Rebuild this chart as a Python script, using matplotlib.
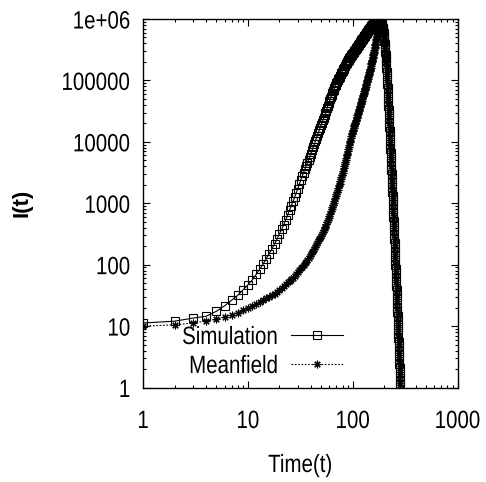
import numpy as np
import matplotlib
matplotlib.use("Agg")
import matplotlib.pyplot as plt
from matplotlib.ticker import FixedLocator, FixedFormatter, LogLocator, NullFormatter
from matplotlib.patheffects import AbstractPathEffect
from matplotlib.transforms import Affine2D

# ---------------- data (log10 of I(t)) ----------------
time_sim = list(range(1, 285))
sim_log10 = [
    1.05, 1.08, 1.13, 1.16, 1.24, 1.33, 1.42, 1.50, 1.59, 1.67,
    1.75, 1.84, 1.93, 2.01, 2.10, 2.18, 2.26, 2.34, 2.42, 2.50,
    2.58, 2.65, 2.73, 2.81, 2.89, 2.96, 3.03, 3.10, 3.17, 3.24,
    3.31, 3.38, 3.44, 3.50, 3.56, 3.61, 3.66, 3.71, 3.76, 3.81,
    3.86, 3.91, 3.96, 4.01, 4.05, 4.10, 4.14, 4.19, 4.23, 4.27,
    4.31, 4.35, 4.39, 4.43, 4.47, 4.51, 4.55, 4.59, 4.63, 4.66,
    4.70, 4.73, 4.76, 4.79, 4.82, 4.85, 4.88, 4.91, 4.93, 4.96,
    4.98, 5.00, 5.02, 5.04, 5.06, 5.08, 5.10, 5.12, 5.14, 5.16,
    5.18, 5.19, 5.21, 5.23, 5.24, 5.26, 5.27, 5.29, 5.30, 5.32,
    5.33, 5.34, 5.36, 5.37, 5.38, 5.40, 5.41, 5.42, 5.43, 5.44,
    5.45, 5.46, 5.47, 5.48, 5.49, 5.50, 5.51, 5.52, 5.53, 5.54,
    5.55, 5.56, 5.57, 5.58, 5.59, 5.60, 5.61, 5.62, 5.63, 5.64,
    5.65, 5.66, 5.66, 5.67, 5.68, 5.69, 5.70, 5.71, 5.72, 5.73,
    5.73, 5.74, 5.75, 5.76, 5.77, 5.78, 5.78, 5.79, 5.80, 5.81,
    5.82, 5.83, 5.84, 5.84, 5.85, 5.86, 5.86, 5.87, 5.88, 5.88,
    5.89, 5.89, 5.90, 5.91, 5.91, 5.92, 5.92, 5.93, 5.93, 5.94,
    5.94, 5.95, 5.95, 5.95, 5.96, 5.96, 5.96, 5.97, 5.97, 5.97,
    5.97, 5.98, 5.98, 5.98, 5.98, 5.98, 5.98, 5.98, 5.98, 5.97,
    5.97, 5.97, 5.96, 5.96, 5.95, 5.95, 5.94, 5.93, 5.92, 5.91,
    5.89, 5.88, 5.86, 5.84, 5.82, 5.80, 5.77, 5.74, 5.71, 5.68,
    5.64, 5.60, 5.56, 5.52, 5.47, 5.42, 5.37, 5.32, 5.26, 5.20,
    5.14, 5.08, 5.01, 4.94, 4.87, 4.80, 4.73, 4.66, 4.59, 4.52,
    4.45, 4.38, 4.31, 4.24, 4.17, 4.10, 4.03, 3.96, 3.89, 3.82,
    3.75, 3.68, 3.61, 3.54, 3.47, 3.40, 3.33, 3.26, 3.19, 3.12,
    3.05, 2.98, 2.91, 2.84, 2.77, 2.70, 2.63, 2.56, 2.49, 2.42,
    2.35, 2.28, 2.21, 2.14, 2.07, 2.00, 1.93, 1.86, 1.79, 1.72,
    1.65, 1.58, 1.51, 1.44, 1.37, 1.30, 1.23, 1.16, 1.09, 1.02,
    0.95, 0.88, 0.81, 0.74, 0.67, 0.60, 0.53, 0.46, 0.39, 0.32,
    0.25, 0.18, 0.11, 0.04,
]

time_mf = list(range(1, 286))
mf_log10 = [
    1.00, 1.02, 1.05, 1.08, 1.11, 1.15, 1.18, 1.22, 1.26, 1.30,
    1.33, 1.36, 1.39, 1.42, 1.45, 1.48, 1.50, 1.53, 1.56, 1.59,
    1.62, 1.65, 1.68, 1.71, 1.74, 1.77, 1.79, 1.82, 1.85, 1.88,
    1.91, 1.94, 1.97, 2.00, 2.03, 2.05, 2.08, 2.11, 2.14, 2.17,
    2.20, 2.23, 2.26, 2.29, 2.32, 2.35, 2.38, 2.41, 2.44, 2.47,
    2.50, 2.53, 2.56, 2.59, 2.62, 2.66, 2.69, 2.73, 2.76, 2.80,
    2.83, 2.87, 2.90, 2.94, 2.97, 3.01, 3.04, 3.08, 3.11, 3.15,
    3.18, 3.22, 3.25, 3.29, 3.32, 3.36, 3.39, 3.43, 3.46, 3.50,
    3.53, 3.57, 3.60, 3.64, 3.67, 3.71, 3.74, 3.78, 3.81, 3.85,
    3.88, 3.92, 3.95, 3.99, 4.02, 4.06, 4.09, 4.13, 4.15, 4.18,
    4.20, 4.22, 4.25, 4.27, 4.29, 4.31, 4.34, 4.36, 4.38, 4.41,
    4.43, 4.45, 4.47, 4.50, 4.52, 4.54, 4.57, 4.59, 4.61, 4.63,
    4.65, 4.67, 4.69, 4.71, 4.74, 4.76, 4.78, 4.80, 4.82, 4.84,
    4.86, 4.88, 4.90, 4.92, 4.94, 4.97, 4.99, 5.01, 5.03, 5.05,
    5.07, 5.09, 5.11, 5.13, 5.15, 5.17, 5.19, 5.21, 5.24, 5.26,
    5.28, 5.30, 5.32, 5.34, 5.36, 5.38, 5.41, 5.43, 5.45, 5.47,
    5.50, 5.52, 5.55, 5.57, 5.60, 5.62, 5.65, 5.67, 5.70, 5.72,
    5.75, 5.77, 5.80, 5.83, 5.86, 5.88, 5.90, 5.92, 5.94, 5.95,
    5.96, 5.97, 5.98, 5.98, 5.97, 5.96, 5.95, 5.94, 5.93, 5.92,
    5.91, 5.89, 5.88, 5.86, 5.84, 5.82, 5.80, 5.77, 5.74, 5.71,
    5.68, 5.64, 5.60, 5.56, 5.52, 5.47, 5.42, 5.37, 5.32, 5.26,
    5.20, 5.14, 5.08, 5.01, 4.94, 4.87, 4.80, 4.73, 4.66, 4.59,
    4.52, 4.45, 4.38, 4.31, 4.24, 4.17, 4.10, 4.03, 3.96, 3.89,
    3.82, 3.75, 3.68, 3.61, 3.54, 3.47, 3.40, 3.33, 3.26, 3.19,
    3.12, 3.05, 2.98, 2.91, 2.84, 2.77, 2.70, 2.63, 2.56, 2.49,
    2.42, 2.35, 2.28, 2.21, 2.14, 2.07, 2.00, 1.93, 1.86, 1.79,
    1.72, 1.65, 1.58, 1.51, 1.44, 1.37, 1.30, 1.23, 1.16, 1.09,
    1.02, 0.95, 0.88, 0.81, 0.74, 0.67, 0.60, 0.53, 0.46, 0.39,
    0.32, 0.25, 0.18, 0.11, 0.04,
]

series_labels = ["Simulation", "Meanfield"]
x_ticks = [1, 10, 100, 1000]
x_ticklabels = ["1", "10", "100", "1000"]
y_ticks = [1, 10, 100, 1000, 10000, 100000, 1000000]
y_ticklabels = ["1", "10", "100", "1000", "10000", "100000", "1e+06"]


# narrow (condensed) rendering of a sans font, like the reference's Arial Narrow look
class Condense(AbstractPathEffect):
    def __init__(self, sx=0.82, anchor='center'):
        super().__init__()
        self.sx = sx
        self.anchor = anchor

    def draw_path(self, renderer, gc, tpath, affine, rgbFace=None):
        ext = tpath.get_extents(affine)
        if self.anchor == 'right':
            x0 = ext.x1
        elif self.anchor == 'left':
            x0 = ext.x0
        else:
            x0 = 0.5 * (ext.x0 + ext.x1)
        new_aff = affine + Affine2D().translate(-x0, 0).scale(self.sx, 1).translate(x0, 0)
        renderer.draw_path(gc, tpath, new_aff, rgbFace)


# ---------------- plotting ----------------
plt.rcParams['font.family'] = ['Liberation Sans', 'DejaVu Sans']

fig = plt.figure(figsize=(4.86, 4.82), dpi=100)
ax = fig.add_axes([143 / 486, 1 - 387.5 / 482, 314.5 / 486, 368.5 / 482])

ax.plot(time_sim, 10 ** np.array(sim_log10), color='black', lw=0.8,
        marker='s', ms=5.5, mfc='none', mec='black', mew=0.8,
        label=series_labels[0])
ax.plot(time_mf, 10 ** np.array(mf_log10), color='black', lw=0.8,
        linestyle=(0, (1.5, 1.5)), marker=(8, 2, 0), ms=5.5, mec='black',
        mew=0.8, label=series_labels[1])

ax.set_xscale('log')
ax.set_yscale('log')
ax.set_xlim(1, 1000)
ax.set_ylim(1, 1e6)

ax.xaxis.set_major_locator(FixedLocator(x_ticks))
ax.xaxis.set_major_formatter(FixedFormatter(x_ticklabels))
ax.yaxis.set_major_locator(FixedLocator(y_ticks))
ax.yaxis.set_major_formatter(FixedFormatter(y_ticklabels))
ax.xaxis.set_minor_locator(LogLocator(base=10, subs=np.arange(2, 10), numticks=20))
ax.yaxis.set_minor_locator(LogLocator(base=10, subs=np.arange(2, 10), numticks=20))
ax.xaxis.set_minor_formatter(NullFormatter())
ax.yaxis.set_minor_formatter(NullFormatter())

ax.tick_params(which='both', direction='in', top=True, right=True, width=0.8)
ax.tick_params(which='major', length=5)
ax.tick_params(which='minor', length=2.5)
ax.tick_params(axis='x', which='major', labelsize=18, pad=15.5)
ax.tick_params(axis='y', which='major', labelsize=18, pad=9)
for s in ax.spines.values():
    s.set_linewidth(1.0)

for lab in ax.get_xticklabels():
    lab.set_path_effects([Condense(0.82, 'center')])
for lab in ax.get_yticklabels():
    lab.set_path_effects([Condense(0.82, 'right')])

ax.set_xlabel("Time(t)", fontsize=18, path_effects=[Condense(0.82, 'center')])
ax.xaxis.label.set_va('center')
ax.xaxis.set_label_coords(0.5, (387.5 - 465) / 368.5)
ax.set_ylabel("I(t)", fontsize=16, fontweight='bold')
ax.yaxis.label.set_va('center')
ax.yaxis.label.set_ha('center')
ax.yaxis.set_label_coords((22 - 143) / 314.5, 0.5)

leg = ax.legend(loc='center right', bbox_to_anchor=((343 - 143) / 314.5, 1 - (351.5 - 19) / 368.5),
                frameon=False, markerfirst=False, fontsize=18, handlelength=2.1,
                handletextpad=0.5, labelspacing=0.2, borderpad=0, borderaxespad=0)
for txt in leg.get_texts():
    txt.set_path_effects([Condense(0.82, 'right')])

fig.savefig("out.png", dpi=100)
